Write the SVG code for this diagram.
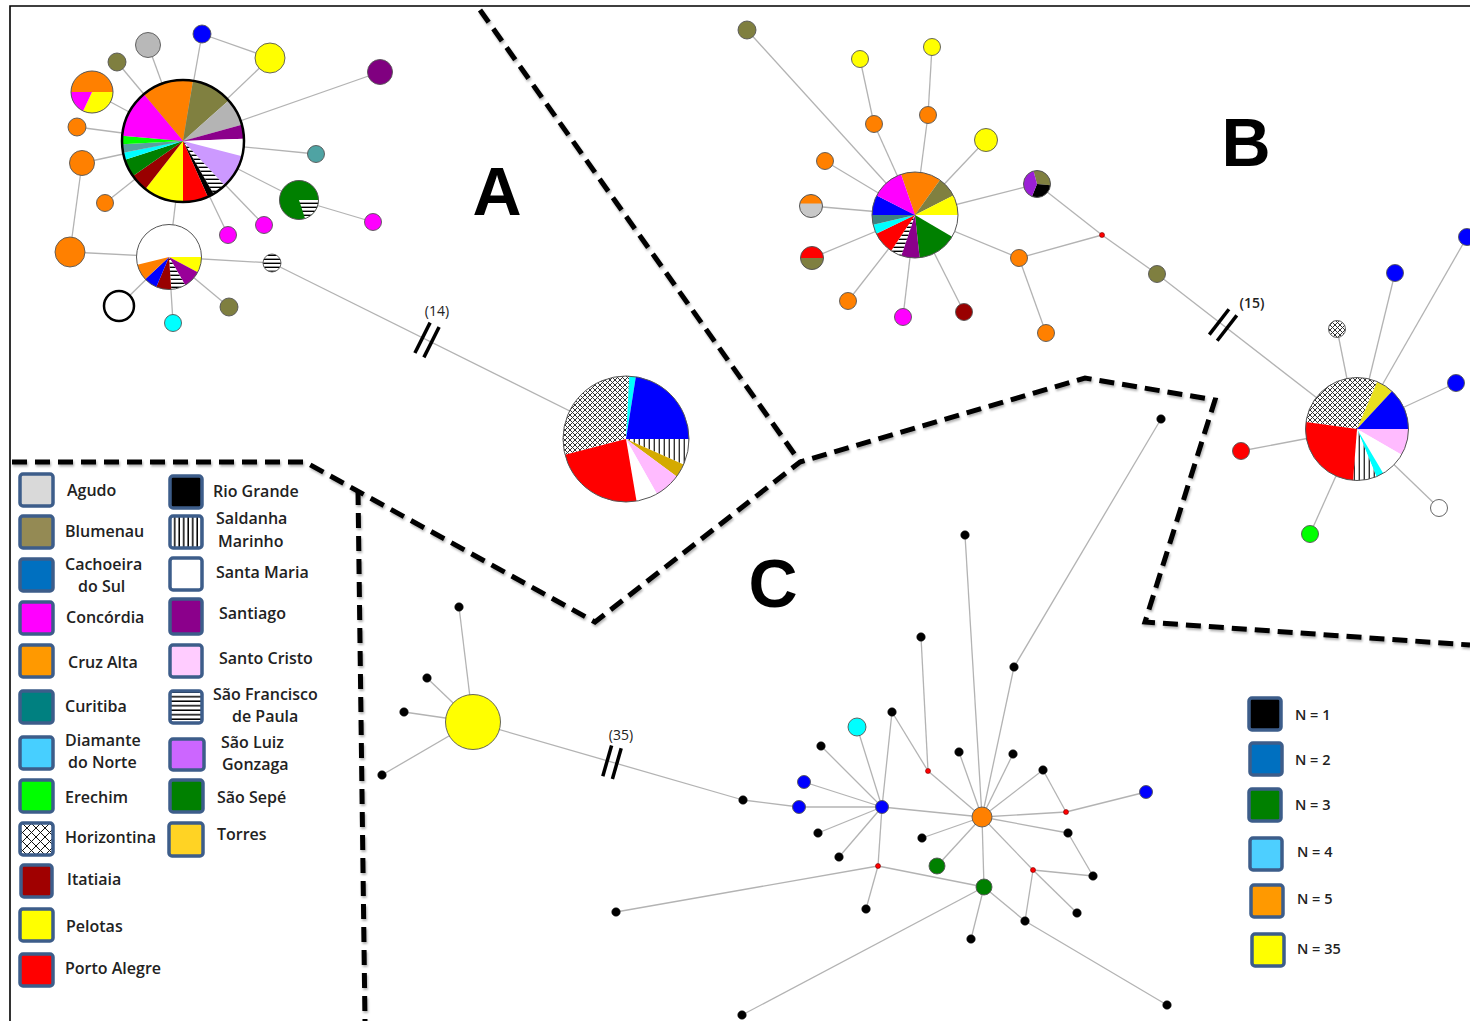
<svg xmlns="http://www.w3.org/2000/svg" width="1470" height="1021" viewBox="0 0 1470 1021">
<defs>
<pattern id="hs" patternUnits="userSpaceOnUse" width="8" height="4"><rect width="8" height="4" fill="#fff"/><rect y="2.6" width="8" height="1.4" fill="#000"/></pattern>
<pattern id="vs" patternUnits="userSpaceOnUse" width="5" height="8"><rect width="5" height="8" fill="#fff"/><rect x="3.6" width="1.4" height="8" fill="#333"/></pattern>
<pattern id="xh" patternUnits="userSpaceOnUse" width="5" height="5"><rect width="5" height="5" fill="#fff"/><path d="M0,0 L5,5 M5,0 L0,5" stroke="#333" stroke-width="1"/></pattern>
<pattern id="xl" patternUnits="userSpaceOnUse" width="9" height="9"><rect width="9" height="9" fill="#fff"/><path d="M0,0 L9,9 M9,0 L0,9" stroke="#111" stroke-width="1"/></pattern>
<pattern id="lhs" patternUnits="userSpaceOnUse" width="8" height="4.5"><rect width="8" height="4.5" fill="#fff"/><rect y="3" width="8" height="1.5" fill="#000"/></pattern>
<pattern id="lvs" patternUnits="userSpaceOnUse" width="4.5" height="8"><rect width="4.5" height="8" fill="#fff"/><rect x="3" width="1.5" height="8" fill="#000"/></pattern>
<filter id="sh" x="-5%" y="-5%" width="110%" height="110%"><feDropShadow dx="1" dy="2" stdDeviation="1.2" flood-opacity="0.3"/></filter>
</defs>
<style>
.e{stroke:#b3b3b3;stroke-width:1.3;fill:none}
.n{stroke:#555;stroke-width:0.9}
.o{fill:none;stroke:#555;stroke-width:1}
.dash{stroke:#000;stroke-width:5;stroke-dasharray:15 8;fill:none;stroke-linejoin:miter}
.brk{stroke:#000;stroke-width:3.5;stroke-linecap:butt}
.bk{fill:#000;stroke:#222;stroke-width:0.5}
.rd{fill:#f00;stroke:#700;stroke-width:0.6}
.lg{stroke:#3d5d8a;stroke-width:3.5}
.t{font-family:"Open Sans","Liberation Sans",sans-serif;font-weight:600;font-size:16px;fill:#222}
.tn{font-family:"Open Sans","Liberation Sans",sans-serif;font-weight:600;font-size:14.5px;fill:#222}
.tb{font-family:"Open Sans","Liberation Sans",sans-serif;font-size:14px;fill:#222}
.big{font-family:"Liberation Sans",Arial,sans-serif;font-weight:bold;font-size:68px;fill:#000;text-anchor:middle}
</style>
<rect width="1470" height="1021" fill="#fff"/>
<g id="frame"><path d="M10,1021 L10,6 L1470,6" fill="none" stroke="#000" stroke-width="1.6"/></g>

<g id="dashed-separators" filter="url(#sh)">
<path class="dash" d="M480,10 L800,462"/>
<path class="dash" d="M12,462 L305,462 L595,622 L800,462 L1085,378 L1215,400 L1145,622 L1470,645"/>
<path class="dash" d="M358,490 L365,1021"/>
</g>

<g id="region-labels">
<text class="big" x="497" y="215">A</text>
<text class="big" x="1246" y="166">B</text>
<text class="big" x="773" y="607">C</text>
</g>

<g id="connectors">
<line class="e" x1="183" y1="141" x2="148" y2="45"/>
<line class="e" x1="183" y1="141" x2="117" y2="62"/>
<line class="e" x1="183" y1="141" x2="202" y2="34"/>
<line class="e" x1="202" y1="34" x2="270" y2="58"/>
<line class="e" x1="183" y1="141" x2="270" y2="58"/>
<line class="e" x1="183" y1="141" x2="380" y2="72"/>
<line class="e" x1="183" y1="141" x2="92" y2="92"/>
<line class="e" x1="183" y1="141" x2="77" y2="127"/>
<line class="e" x1="183" y1="141" x2="82" y2="163"/>
<line class="e" x1="183" y1="141" x2="105" y2="203"/>
<line class="e" x1="82" y1="163" x2="70" y2="252"/>
<line class="e" x1="70" y1="252" x2="169" y2="257"/>
<line class="e" x1="183" y1="141" x2="169" y2="257"/>
<line class="e" x1="183" y1="141" x2="316" y2="154"/>
<line class="e" x1="183" y1="141" x2="299" y2="200"/>
<line class="e" x1="299" y1="200" x2="373" y2="222"/>
<line class="e" x1="183" y1="141" x2="264" y2="225"/>
<line class="e" x1="183" y1="141" x2="228" y2="235"/>
<line class="e" x1="169" y1="257" x2="272" y2="263"/>
<line class="e" x1="272" y1="263" x2="626" y2="439"/>
<line class="e" x1="169" y1="257" x2="119" y2="306"/>
<line class="e" x1="169" y1="257" x2="173" y2="323"/>
<line class="e" x1="169" y1="257" x2="229" y2="307"/>

<line class="e" x1="915" y1="215" x2="747" y2="30"/>
<line class="e" x1="915" y1="215" x2="874" y2="124"/>
<line class="e" x1="874" y1="124" x2="860" y2="59"/>
<line class="e" x1="915" y1="215" x2="928" y2="115"/>
<line class="e" x1="928" y1="115" x2="932" y2="47"/>
<line class="e" x1="915" y1="215" x2="825" y2="161"/>
<line class="e" x1="915" y1="215" x2="986" y2="140"/>
<line class="e" x1="915" y1="215" x2="811" y2="206"/>
<line class="e" x1="915" y1="215" x2="812" y2="258"/>
<line class="e" x1="915" y1="215" x2="848" y2="301"/>
<line class="e" x1="915" y1="215" x2="903" y2="317"/>
<line class="e" x1="915" y1="215" x2="964" y2="312"/>
<line class="e" x1="915" y1="215" x2="1019" y2="258"/>
<line class="e" x1="915" y1="215" x2="1037" y2="184"/>
<line class="e" x1="1019" y1="258" x2="1102" y2="235"/>
<line class="e" x1="1019" y1="258" x2="1046" y2="333"/>
<line class="e" x1="1037" y1="184" x2="1102" y2="235"/>
<line class="e" x1="1102" y1="235" x2="1157" y2="274"/>
<line class="e" x1="1157" y1="274" x2="1357" y2="429"/>

<line class="e" x1="1357" y1="429" x2="1337" y2="329"/>
<line class="e" x1="1357" y1="429" x2="1395" y2="273"/>
<line class="e" x1="1357" y1="429" x2="1467" y2="237"/>
<line class="e" x1="1357" y1="429" x2="1456" y2="383"/>
<line class="e" x1="1357" y1="429" x2="1241" y2="451"/>
<line class="e" x1="1357" y1="429" x2="1310" y2="534"/>
<line class="e" x1="1357" y1="429" x2="1439" y2="508"/>

<line class="e" x1="473" y1="722" x2="459" y2="607"/>
<line class="e" x1="473" y1="722" x2="427" y2="678"/>
<line class="e" x1="473" y1="722" x2="404" y2="712"/>
<line class="e" x1="473" y1="722" x2="382" y2="775"/>
<line class="e" x1="473" y1="722" x2="743" y2="800"/>
<line class="e" x1="799" y1="807" x2="743" y2="800"/>

<line class="e" x1="882" y1="807" x2="982" y2="817"/>
<line class="e" x1="882" y1="807" x2="857" y2="727"/>
<line class="e" x1="882" y1="807" x2="804" y2="782"/>
<line class="e" x1="882" y1="807" x2="799" y2="807"/>
<line class="e" x1="882" y1="807" x2="821" y2="746"/>
<line class="e" x1="882" y1="807" x2="892" y2="712"/>
<line class="e" x1="882" y1="807" x2="818" y2="833"/>
<line class="e" x1="882" y1="807" x2="839" y2="857"/>
<line class="e" x1="882" y1="807" x2="878" y2="866"/>
<line class="e" x1="892" y1="712" x2="928" y2="771"/>
<line class="e" x1="928" y1="771" x2="921" y2="637"/>
<line class="e" x1="928" y1="771" x2="982" y2="817"/>
<line class="e" x1="982" y1="817" x2="959" y2="752"/>
<line class="e" x1="982" y1="817" x2="1013" y2="754"/>
<line class="e" x1="982" y1="817" x2="1014" y2="667"/>
<line class="e" x1="982" y1="817" x2="965" y2="535"/>
<line class="e" x1="982" y1="817" x2="1043" y2="770"/>
<line class="e" x1="982" y1="817" x2="1066" y2="812"/>
<line class="e" x1="982" y1="817" x2="1068" y2="833"/>
<line class="e" x1="982" y1="817" x2="922" y2="838"/>
<line class="e" x1="982" y1="817" x2="937" y2="866"/>
<line class="e" x1="982" y1="817" x2="984" y2="887"/>
<line class="e" x1="982" y1="817" x2="1033" y2="870"/>
<line class="e" x1="1043" y1="770" x2="1066" y2="812"/>
<line class="e" x1="1066" y1="812" x2="1146" y2="792"/>
<line class="e" x1="1068" y1="833" x2="1093" y2="876"/>
<line class="e" x1="1033" y1="870" x2="1093" y2="876"/>
<line class="e" x1="1033" y1="870" x2="1077" y2="913"/>
<line class="e" x1="1033" y1="870" x2="1025" y2="921"/>
<line class="e" x1="984" y1="887" x2="1025" y2="921"/>
<line class="e" x1="1025" y1="921" x2="1167" y2="1005"/>
<line class="e" x1="984" y1="887" x2="971" y2="939"/>
<line class="e" x1="984" y1="887" x2="742" y2="1015"/>
<line class="e" x1="984" y1="887" x2="878" y2="866"/>
<line class="e" x1="878" y1="866" x2="866" y2="909"/>
<line class="e" x1="878" y1="866" x2="616" y2="912"/>
<line class="e" x1="1014" y1="667" x2="1161" y2="419"/>

<g id="break-marks">
<line class="brk" x1="414.9" y1="353" x2="430.1" y2="322.6"/>
<line class="brk" x1="423.9" y1="357.4" x2="439.1" y2="327"/>
<line class="brk" x1="1209.3" y1="334.6" x2="1228.9" y2="309.3"/>
<line class="brk" x1="1217.2" y1="340.7" x2="1236.8" y2="315.4"/>
<line class="brk" x1="602.8" y1="776.2" x2="611.6" y2="745.4"/>
<line class="brk" x1="612.4" y1="779" x2="621.2" y2="748.2"/>
</g>
<text class="tb" x="437" y="316" text-anchor="middle">(14)</text>
<text class="tb" x="1252" y="308" text-anchor="middle" font-weight="600">(15)</text>
<text class="tb" x="621" y="740" text-anchor="middle">(35)</text>
</g>

<!-- Network A -->
<g id="a-main-pie">
<path d="M183,141 L143.79,94.27 A61,61 0 0 1 193.07,80.84 Z" fill="#ff8000"/>
<path d="M183,141 L193.07,80.84 A61,61 0 0 1 228.69,100.58 Z" fill="#808040"/>
<path d="M183,141 L228.69,100.58 A61,61 0 0 1 241.78,124.7 Z" fill="#b4b4b4"/>
<path d="M183,141 L241.78,124.7 A61,61 0 0 1 243.96,138.87 Z" fill="#8b008b"/>
<path d="M183,141 L243.96,138.87 A61,61 0 0 1 242.08,156.17 Z" fill="#fff"/>
<path d="M183,141 L242.08,156.17 A61,61 0 0 1 224.6,185.61 Z" fill="#cc99ff"/>
<path d="M183,141 L224.6,185.61 A61,61 0 0 1 213.5,193.83 Z" fill="url(#hs)"/>
<path d="M183,141 L213.5,193.83 A61,61 0 0 1 207.81,196.73 Z" fill="#000"/>
<path d="M183,141 L207.81,196.73 A61,61 0 0 1 183,202 Z" fill="#ff0000"/>
<path d="M183,141 L183,202 A61,61 0 0 1 145.44,189.07 Z" fill="#ffff00"/>
<path d="M183,141 L145.44,189.07 A61,61 0 0 1 133.03,175.99 Z" fill="#990000"/>
<path d="M183,141 L133.03,175.99 A61,61 0 0 1 124.98,159.85 Z" fill="#008000"/>
<path d="M183,141 L124.98,159.85 A61,61 0 0 1 123.12,152.64 Z" fill="#00ffff"/>
<path d="M183,141 L123.12,152.64 A61,61 0 0 1 122.08,144.19 Z" fill="#5aa0a0"/>
<path d="M183,141 L122.08,144.19 A61,61 0 0 1 122.23,135.68 Z" fill="#00ff00"/>
<path d="M183,141 L122.23,135.68 A61,61 0 0 1 143.79,94.27 Z" fill="#ff00ff"/>
<circle cx="183" cy="141" r="61" fill="none" stroke="#000" stroke-width="2.5"/>
</g>
<g id="a-pie2">
<circle cx="169" cy="257" r="32.5" fill="#fff"/>
<path d="M169,257 L201.5,257 A32.5,32.5 0 0 1 197.69,272.26 Z" fill="#ffff00"/>
<path d="M169,257 L197.69,272.26 A32.5,32.5 0 0 1 185.25,285.15 Z" fill="#990099"/>
<path d="M169,257 L185.25,285.15 A32.5,32.5 0 0 1 171.27,289.42 Z" fill="url(#hs)"/>
<path d="M169,257 L171.27,289.42 A32.5,32.5 0 0 1 156.3,286.92 Z" fill="#990000"/>
<path d="M169,257 L156.3,286.92 A32.5,32.5 0 0 1 145.23,279.17 Z" fill="#0000ff"/>
<path d="M169,257 L145.23,279.17 A32.5,32.5 0 0 1 137.47,264.86 Z" fill="#ff8000"/>
<circle class="o" cx="169" cy="257" r="32.5"/>
</g>
<g id="a-pie3">
<path d="M92,92 L71,92 A21,21 0 0 1 113,92 Z" fill="#ff8000"/>
<path d="M92,92 L113,92 A21,21 0 0 1 83.13,111.03 Z" fill="#ffff00"/>
<path d="M92,92 L83.13,111.03 A21,21 0 0 1 71,92 Z" fill="#ff00ff"/>
<circle class="o" cx="92" cy="92" r="21"/>
</g>
<g id="a-pie4">
<circle cx="299" cy="200" r="19.5" fill="#008000"/>
<path d="M299,200 L318.5,200 A19.5,19.5 0 0 1 305.03,218.55 Z" fill="url(#hs)"/>
<circle class="o" cx="299" cy="200" r="19.5"/>
</g>
<g id="a-n1"><circle class="n" cx="148" cy="45" r="12.5" fill="#b8b8b8"/></g>
<g id="a-n2"><circle class="n" cx="117" cy="62" r="9" fill="#7f7f40"/></g>
<g id="a-n3"><circle class="n" cx="202" cy="34" r="9" fill="#0000ff"/></g>
<g id="a-n4"><circle class="n" cx="270" cy="58" r="15" fill="#ffff00"/></g>
<g id="a-n5"><circle class="n" cx="380" cy="72" r="12.5" fill="#800080"/></g>
<g id="a-n6"><circle class="n" cx="77" cy="127" r="9" fill="#ff8000"/></g>
<g id="a-n7"><circle class="n" cx="82" cy="163" r="12.5" fill="#ff8000"/></g>
<g id="a-n8"><circle class="n" cx="105" cy="203" r="8.5" fill="#ff8000"/></g>
<g id="a-n9"><circle class="n" cx="70" cy="252" r="15" fill="#ff8000"/></g>
<g id="a-n10"><circle class="n" cx="316" cy="154" r="8.5" fill="#4fa3a3"/></g>
<g id="a-n11"><circle class="n" cx="373" cy="222" r="8.5" fill="#ff00ff"/></g>
<g id="a-n12"><circle class="n" cx="264" cy="225" r="8.5" fill="#ff00ff"/></g>
<g id="a-n13"><circle class="n" cx="228" cy="235" r="8.5" fill="#ff00ff"/></g>
<g id="a-n14"><circle class="n" cx="272" cy="263" r="9" fill="url(#hs)"/></g>
<g id="a-n15"><circle cx="119" cy="306" r="15" fill="#fff" stroke="#000" stroke-width="2.5"/></g>
<g id="a-n16"><circle class="n" cx="173" cy="323" r="8.5" fill="#00ffff"/></g>
<g id="a-n17"><circle class="n" cx="229" cy="307" r="9" fill="#7f7f40"/></g>
<g id="a-pie-horizontina">
<path d="M626,439 L564.98,454.67 A63,63 0 0 1 629.3,376.09 Z" fill="url(#xh)"/>
<path d="M626,439 L629.3,376.09 A63,63 0 0 1 635.85,376.78 Z" fill="#00ffff"/>
<path d="M626,439 L635.85,376.78 A63,63 0 0 1 689,439 Z" fill="#0000ff"/>
<path d="M626,439 L689,439 A63,63 0 0 1 683.6,464.52 Z" fill="url(#vs)"/>
<path d="M626,439 L683.6,464.52 A63,63 0 0 1 676.71,476.38 Z" fill="#d4aa00"/>
<path d="M626,439 L676.71,476.38 A63,63 0 0 1 656.93,493.89 Z" fill="#ffbbff"/>
<path d="M626,439 L656.93,493.89 A63,63 0 0 1 636.51,501.12 Z" fill="#fff"/>
<path d="M626,439 L636.51,501.12 A63,63 0 0 1 564.98,454.67 Z" fill="#ff0000"/>
<circle class="o" cx="626" cy="439" r="63"/>
</g>

<!-- Network B -->
<g id="b-main-pie">
<path d="M915,215 L901,174.34 A43,43 0 0 1 939.97,179.99 Z" fill="#ff8000"/>
<path d="M915,215 L939.97,179.99 A43,43 0 0 1 953.31,195.48 Z" fill="#808040"/>
<path d="M915,215 L953.31,195.48 A43,43 0 0 1 958,215 Z" fill="#ffff00"/>
<path d="M915,215 L958,215 A43,43 0 0 1 952.09,236.76 Z" fill="#fff"/>
<path d="M915,215 L952.09,236.76 A43,43 0 0 1 919.64,257.75 Z" fill="#008000"/>
<path d="M915,215 L919.64,257.75 A43,43 0 0 1 901.28,255.76 Z" fill="#8b008b"/>
<path d="M915,215 L901.28,255.76 A43,43 0 0 1 891.2,250.81 Z" fill="url(#hs)"/>
<path d="M915,215 L891.2,250.81 A43,43 0 0 1 876.35,233.85 Z" fill="#ff0000"/>
<path d="M915,215 L876.35,233.85 A43,43 0 0 1 873.1,224.68 Z" fill="#00ffff"/>
<path d="M915,215 L873.1,224.68 A43,43 0 0 1 872,215 Z" fill="#408080"/>
<path d="M915,215 L872,215 A43,43 0 0 1 876.62,195.61 Z" fill="#0000ff"/>
<path d="M915,215 L876.62,195.61 A43,43 0 0 1 901,174.34 Z" fill="#ff00ff"/>
<circle class="o" cx="915" cy="215" r="43"/>
</g>
<g id="b-pie2">
<circle cx="811" cy="206" r="11.5" fill="#c8c8c8"/>
<path d="M799.78,203.5 A11.5,11.5 0 0 1 822.22,203.5 Z" fill="#ff8000"/>
<circle class="o" cx="811" cy="206" r="11.5"/>
</g>
<g id="b-pie3">
<path d="M800.5,258 A11.5,11.5 0 0 1 823.5,258 Z" fill="#ff0000"/>
<path d="M823.5,258 A11.5,11.5 0 0 1 800.5,258 Z" fill="#7f7f40"/>
<circle class="o" cx="812" cy="258" r="11.5"/>
</g>
<g id="b-pie4">
<path d="M1037,184 L1033.51,170.96 A13.5,13.5 0 0 1 1050.45,185.18 Z" fill="#7f7f40"/>
<path d="M1037,184 L1050.45,185.18 A13.5,13.5 0 0 1 1031.94,196.52 Z" fill="#000"/>
<path d="M1037,184 L1031.94,196.52 A13.5,13.5 0 0 1 1033.51,170.96 Z" fill="#9b1fd6"/>
<circle class="o" cx="1037" cy="184" r="13.5"/>
</g>
<g id="b-n1"><circle class="n" cx="747" cy="30" r="9" fill="#7f7f40"/></g>
<g id="b-n2"><circle class="n" cx="860" cy="59" r="8.5" fill="#ffff00"/></g>
<g id="b-n3"><circle class="n" cx="932" cy="47" r="8.5" fill="#ffff00"/></g>
<g id="b-n4"><circle class="n" cx="874" cy="124" r="8.5" fill="#ff8000"/></g>
<g id="b-n5"><circle class="n" cx="928" cy="115" r="8.5" fill="#ff8000"/></g>
<g id="b-n6"><circle class="n" cx="825" cy="161" r="8.5" fill="#ff8000"/></g>
<g id="b-n7"><circle class="n" cx="986" cy="140" r="11.5" fill="#ffff00"/></g>
<g id="b-n8"><circle class="n" cx="848" cy="301" r="8.5" fill="#ff8000"/></g>
<g id="b-n9"><circle class="n" cx="903" cy="317" r="8.5" fill="#ff00ff"/></g>
<g id="b-n10"><circle class="n" cx="964" cy="312" r="8.5" fill="#990000"/></g>
<g id="b-n11"><circle class="n" cx="1019" cy="258" r="8.5" fill="#ff8000"/></g>
<g id="b-n12"><circle class="n" cx="1046" cy="333" r="8.5" fill="#ff8000"/></g>
<g id="b-n13"><circle class="rd" cx="1102" cy="235" r="2.5"/></g>
<g id="b-n14"><circle class="n" cx="1157" cy="274" r="8.5" fill="#7f7f40"/></g>

<g id="b-pie-horizontina">
<path d="M1357,429 L1305.98,422.01 A51.5,51.5 0 0 1 1377.2,381.63 Z" fill="url(#xh)"/>
<path d="M1357,429 L1377.2,381.63 A51.5,51.5 0 0 1 1391.99,391.21 Z" fill="#e8e020"/>
<path d="M1357,429 L1391.99,391.21 A51.5,51.5 0 0 1 1408.5,429 Z" fill="#0000ff"/>
<path d="M1357,429 L1408.5,429 A51.5,51.5 0 0 1 1401.6,454.75 Z" fill="#ffbbff"/>
<path d="M1357,429 L1401.6,454.75 A51.5,51.5 0 0 1 1383.21,473.33 Z" fill="#fff"/>
<path d="M1357,429 L1383.21,473.33 A51.5,51.5 0 0 1 1376.46,476.68 Z" fill="#00ffff"/>
<path d="M1357,429 L1376.46,476.68 A51.5,51.5 0 0 1 1353.05,480.35 Z" fill="url(#vs)"/>
<path d="M1357,429 L1353.05,480.35 A51.5,51.5 0 0 1 1305.98,422.01 Z" fill="#ff0000"/>
<circle class="o" cx="1357" cy="429" r="51.5"/>
</g>
<g id="b2-n1"><circle class="n" cx="1337" cy="329" r="8.5" fill="url(#xh)"/></g>
<g id="b2-n2"><circle class="n" cx="1395" cy="273" r="8.5" fill="#0000ff"/></g>
<g id="b2-n3"><circle class="n" cx="1467" cy="237" r="8.5" fill="#0000ff"/></g>
<g id="b2-n4"><circle class="n" cx="1456" cy="383" r="8.5" fill="#0000ff"/></g>
<g id="b2-n5"><circle class="n" cx="1241" cy="451" r="8.5" fill="#ff0000"/></g>
<g id="b2-n6"><circle class="n" cx="1310" cy="534" r="8.5" fill="#00ff00"/></g>
<g id="b2-n7"><circle class="n" cx="1439" cy="508" r="8.5" fill="#fff"/></g>

<!-- Network C -->
<g id="c-yellow"><circle class="n" cx="473" cy="722" r="27.5" fill="#ffff00"/></g>
<g id="c-orange"><circle class="n" cx="982" cy="817" r="10" fill="#ff8000"/></g>
<g id="c-bluehub"><circle class="n" cx="882" cy="807" r="6.5" fill="#0000ff"/></g>
<g id="c-cyan"><circle class="n" cx="857" cy="727" r="9" fill="#00ffff"/></g>
<g id="c-blue1"><circle class="n" cx="804" cy="782" r="6.5" fill="#0000ff"/></g>
<g id="c-blue2"><circle class="n" cx="799" cy="807" r="6.5" fill="#0000ff"/></g>
<g id="c-blue3"><circle class="n" cx="1146" cy="792" r="6.5" fill="#0000ff"/></g>
<g id="c-green1"><circle class="n" cx="984" cy="887" r="8" fill="#008000"/></g>
<g id="c-green2"><circle class="n" cx="937" cy="866" r="8" fill="#008000"/></g>
<g id="c-r1"><circle class="rd" cx="928" cy="771" r="2.5"/></g>
<g id="c-r2"><circle class="rd" cx="1066" cy="812" r="2.5"/></g>
<g id="c-r3"><circle class="rd" cx="1033" cy="870" r="2.5"/></g>
<g id="c-r4"><circle class="rd" cx="878" cy="866" r="2.5"/></g>
<g id="c-black">
<circle class="bk" cx="459" cy="607" r="4.3"/>
<circle class="bk" cx="427" cy="678" r="4.3"/>
<circle class="bk" cx="404" cy="712" r="4.3"/>
<circle class="bk" cx="382" cy="775" r="4.3"/>
<circle class="bk" cx="743" cy="800" r="4.3"/>
<circle class="bk" cx="821" cy="746" r="4.3"/>
<circle class="bk" cx="892" cy="712" r="4.3"/>
<circle class="bk" cx="921" cy="637" r="4.3"/>
<circle class="bk" cx="959" cy="752" r="4.3"/>
<circle class="bk" cx="1013" cy="754" r="4.3"/>
<circle class="bk" cx="1014" cy="667" r="4.3"/>
<circle class="bk" cx="1043" cy="770" r="4.3"/>
<circle class="bk" cx="1068" cy="833" r="4.3"/>
<circle class="bk" cx="1093" cy="876" r="4.3"/>
<circle class="bk" cx="1077" cy="913" r="4.3"/>
<circle class="bk" cx="1025" cy="921" r="4.3"/>
<circle class="bk" cx="1167" cy="1005" r="4.3"/>
<circle class="bk" cx="922" cy="838" r="4.3"/>
<circle class="bk" cx="818" cy="833" r="4.3"/>
<circle class="bk" cx="839" cy="857" r="4.3"/>
<circle class="bk" cx="866" cy="909" r="4.3"/>
<circle class="bk" cx="971" cy="939" r="4.3"/>
<circle class="bk" cx="616" cy="912" r="4.3"/>
<circle class="bk" cx="742" cy="1015" r="4.3"/>
<circle class="bk" cx="965" cy="535" r="4.3"/>
<circle class="bk" cx="1161" cy="419" r="4.3"/>
</g>

<!-- Legend: localities -->
<g id="legend-locality">
<rect class="lg" x="20" y="474" width="33" height="32" rx="3" fill="#d9d9d9"/><text class="t" x="67" y="496">Agudo</text>
<rect class="lg" x="20" y="516" width="33" height="32" rx="3" fill="#948a54"/><text class="t" x="65" y="537">Blumenau</text>
<rect class="lg" x="20" y="559" width="33" height="32" rx="3" fill="#0070c0"/><text class="t" x="65" y="570">Cachoeira</text><text class="t" x="78" y="592">do Sul</text>
<rect class="lg" x="20" y="602" width="33" height="32" rx="3" fill="#ff00ff"/><text class="t" x="66" y="623">Concórdia</text>
<rect class="lg" x="20" y="645" width="33" height="32" rx="3" fill="#ff9900"/><text class="t" x="68" y="668">Cruz Alta</text>
<rect class="lg" x="20" y="691" width="33" height="32" rx="3" fill="#008080"/><text class="t" x="65" y="712">Curitiba</text>
<rect class="lg" x="20" y="737" width="33" height="32" rx="3" fill="#47cfff"/><text class="t" x="65" y="746">Diamante</text><text class="t" x="68" y="768">do Norte</text>
<rect class="lg" x="20" y="780" width="33" height="32" rx="3" fill="#00ff00"/><text class="t" x="65" y="803">Erechim</text>
<rect class="lg" x="20" y="823" width="33" height="32" rx="3" fill="url(#xl)"/><text class="t" x="65" y="843">Horizontina</text>
<rect class="lg" x="21" y="865" width="31" height="32" rx="3" fill="#a00000"/><text class="t" x="67" y="885">Itatiaia</text>
<rect class="lg" x="20" y="909" width="33" height="32" rx="3" fill="#ffff00"/><text class="t" x="66" y="932">Pelotas</text>
<rect class="lg" x="20" y="954" width="33" height="32" rx="3" fill="#ff0000"/><text class="t" x="65" y="974">Porto Alegre</text>

<rect class="lg" x="170" y="476" width="32" height="32" rx="3" fill="#000"/><text class="t" x="213" y="497">Rio Grande</text>
<rect class="lg" x="170" y="516" width="32" height="32" rx="3" fill="url(#lvs)"/><text class="t" x="216" y="524">Saldanha</text><text class="t" x="218" y="547">Marinho</text>
<rect class="lg" x="170" y="558" width="32" height="32" rx="3" fill="#fff"/><text class="t" x="216" y="578">Santa Maria</text>
<rect class="lg" x="170" y="599" width="32" height="35" rx="3" fill="#8b008b"/><text class="t" x="219" y="619">Santiago</text>
<rect class="lg" x="170" y="645" width="32" height="32" rx="3" fill="#ffccff"/><text class="t" x="219" y="664">Santo Cristo</text>
<rect class="lg" x="170" y="691" width="32" height="32" rx="3" fill="url(#lhs)"/><text class="t" x="213" y="700">São Francisco</text><text class="t" x="232" y="722">de Paula</text>
<rect class="lg" x="170" y="739" width="34" height="31" rx="3" fill="#cc66ff"/><text class="t" x="221" y="748">São Luiz</text><text class="t" x="222" y="770">Gonzaga</text>
<rect class="lg" x="170" y="780" width="33" height="32" rx="3" fill="#008000"/><text class="t" x="217" y="803">São Sepé</text>
<rect class="lg" x="169" y="823" width="34" height="33" rx="3" fill="#ffd324"/><text class="t" x="217" y="840">Torres</text>
</g>

<!-- Legend: haplotype size -->
<g id="legend-size">
<rect class="lg" x="1249" y="698" width="32" height="32" rx="3" fill="#000"/><text class="tn" x="1295" y="720">N = 1</text>
<rect class="lg" x="1250" y="743" width="32" height="32" rx="3" fill="#0070c0"/><text class="tn" x="1295" y="765">N = 2</text>
<rect class="lg" x="1249" y="789" width="32" height="32" rx="3" fill="#008000"/><text class="tn" x="1295" y="810">N = 3</text>
<rect class="lg" x="1250" y="838" width="32" height="32" rx="3" fill="#4dcfff"/><text class="tn" x="1297" y="857">N = 4</text>
<rect class="lg" x="1251" y="885" width="32" height="32" rx="3" fill="#ff9900"/><text class="tn" x="1297" y="904">N = 5</text>
<rect class="lg" x="1252" y="934" width="32" height="32" rx="3" fill="#ffff00"/><text class="tn" x="1297" y="954">N = 35</text>
</g>
</svg>
